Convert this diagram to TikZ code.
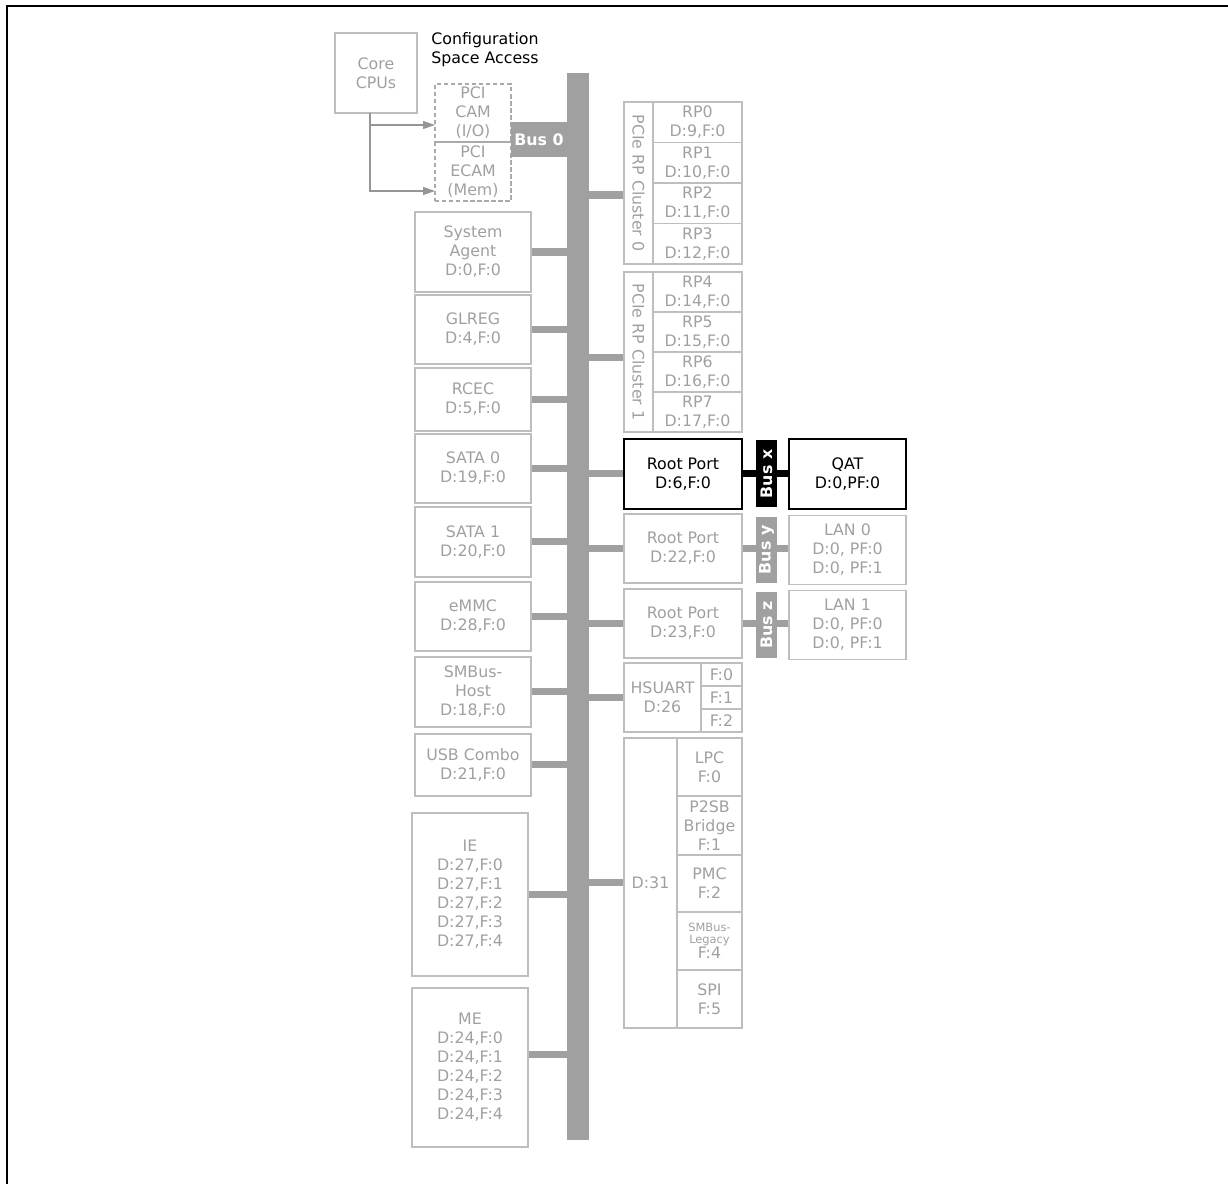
\documentclass[tikz,border=0pt]{standalone}
\usepackage{fontspec}
\setmainfont{DejaVu Sans}
\usetikzlibrary{arrows.meta, positioning, backgrounds}
\definecolor{boxgray}{RGB}{190,190,190}
\definecolor{dashgray}{RGB}{170,170,170}
\definecolor{txtgray}{RGB}{160,160,160}
\definecolor{busgray}{RGB}{160,160,160}
\definecolor{arrgray}{RGB}{150,150,150}

\begin{document}
\begin{tikzpicture}[
    x=0.02cm, y=-0.02cm,
    font=\fontsize{9}{10.8}\selectfont,
    box/.style={draw=boxgray, line width=0.8pt, text=txtgray, align=center, inner sep=0pt, outer sep=0pt, minimum width=2.32cm},
    actbox/.style={box, draw=black, text=black},
    dbox/.style={box, draw=dashgray, dash pattern=on 2.5pt off 1.5pt},
    busbar/.style={fill=busgray, inner sep=0pt, outer sep=0pt, text=white, font=\fontsize{9}{10.8}\selectfont\bfseries},
    link/.style={draw=busgray, line width=4pt},
    arrow/.style={-{Triangle[length=2.4mm, width=1.6mm]}, draw=arrgray, line width=0.7pt}
]
\useasboundingbox (0,0) rectangle (1228,1184);
\draw[line width=1.1pt] (7,1184) -- (7,6) -- (1228,6);

% access path
\node[box, minimum width=1.64cm, minimum height=1.6cm] (cpu) at (376,73) {Core\\CPUs};
\node[anchor=west, align=left, inner sep=0pt] (cfg) at (431,50) {Configuration\\Space Access};
\node[dbox, minimum width=1.52cm, minimum height=1.16cm] (cam) at (473,113) {PCI\\CAM\\(I/O)};
\node[dbox, minimum width=1.52cm, minimum height=1.18cm, below=0cm of cam] (ecam) {PCI\\ECAM\\(Mem)};
\node[busbar, minimum width=0.44cm, minimum height=21.34cm] (bus) at (578,606.5) {};
\node[busbar, minimum width=1.12cm, minimum height=0.7cm] (bus0) at (539,139.5) {Bus 0};
\draw[arrow] ([xshift=-0.12cm]cpu.south) |- ([yshift=-0.24cm]cam.west);
\draw[arrow] ([xshift=-0.12cm]cpu.south) |- ([yshift=-0.39cm]ecam.west);

% left devices
\node[box, minimum height=1.6cm] (sa) at (473,252) {System\\Agent\\D:0,F:0};
\node[box, minimum height=1.38cm, below=0.06cm of sa] (glreg) {GLREG\\D:4,F:0};
\node[box, minimum height=1.26cm, below=0.08cm of glreg] (rcec) {RCEC\\D:5,F:0};
\node[box, minimum height=1.38cm, below=0.06cm of rcec] (sata0) {SATA 0\\D:19,F:0};
\node[box, minimum height=1.4cm, below=0.08cm of sata0] (sata1) {SATA 1\\D:20,F:0};
\node[box, minimum height=1.38cm, below=0.1cm of sata1] (emmc) {eMMC\\D:28,F:0};
\node[box, minimum height=1.4cm, below=0.12cm of emmc] (smbus) {SMBus-\\Host\\D:18,F:0};
\node[box, minimum height=1.24cm, below=0.14cm of smbus] (usb) {USB Combo\\D:21,F:0};
\node[box, minimum height=3.26cm, below=0.34cm of usb, xshift=-0.06cm] (ie) {IE\\D:27,F:0\\D:27,F:1\\D:27,F:2\\D:27,F:3\\D:27,F:4};
\node[box, minimum height=3.18cm, below=0.24cm of ie] (me) {ME\\D:24,F:0\\D:24,F:1\\D:24,F:2\\D:24,F:3\\D:24,F:4};

% root port clusters
\node[box, minimum width=0.58cm, minimum height=3.24cm] (c0lab) at (638.5,183) {\rotatebox{-90}{PCIe RP Cluster 0}};
\node[box, minimum width=1.78cm, minimum height=0.81cm, anchor=north west] (rp0) at (c0lab.north east) {RP0\\D:9,F:0};
\node[box, minimum width=1.78cm, minimum height=0.81cm, below=0cm of rp0] (rp1) {RP1\\D:10,F:0};
\node[box, minimum width=1.78cm, minimum height=0.81cm, below=0cm of rp1] (rp2) {RP2\\D:11,F:0};
\node[box, minimum width=1.78cm, minimum height=0.81cm, below=0cm of rp2] (rp3) {RP3\\D:12,F:0};
\node[box, minimum width=0.58cm, minimum height=3.2cm, below=0.16cm of c0lab] (c1lab) {\rotatebox{-90}{PCIe RP Cluster 1}};
\node[box, minimum width=1.78cm, minimum height=0.8cm, anchor=north west] (rp4) at (c1lab.north east) {RP4\\D:14,F:0};
\node[box, minimum width=1.78cm, minimum height=0.8cm, below=0cm of rp4] (rp5) {RP5\\D:15,F:0};
\node[box, minimum width=1.78cm, minimum height=0.8cm, below=0cm of rp5] (rp6) {RP6\\D:16,F:0};
\node[box, minimum width=1.78cm, minimum height=0.8cm, below=0cm of rp6] (rp7) {RP7\\D:17,F:0};

% root ports and their buses
\node[actbox, minimum width=2.36cm, minimum height=1.4cm, below=0.14cm of c1lab.south west, anchor=north west] (rpx) {Root Port\\D:6,F:0};
\node[box, minimum width=2.36cm, minimum height=1.38cm, below=0.1cm of rpx] (rpy) {Root Port\\D:22,F:0};
\node[box, minimum width=2.36cm, minimum height=1.38cm, below=0.12cm of rpy] (rpz) {Root Port\\D:23,F:0};
\node[busbar, fill=black, minimum width=0.42cm, minimum height=1.34cm, right=0.28cm of rpx] (busx) {\rotatebox{90}{Bus x}};
\node[actbox, minimum width=2.34cm, minimum height=1.4cm, right=0.24cm of busx] (qat) {QAT\\D:0,PF:0};
\node[busbar, minimum width=0.42cm, minimum height=1.32cm, right=0.28cm of rpy, yshift=-0.03cm] (busy) {\rotatebox{90}{Bus y}};
\node[box, minimum width=2.34cm, minimum height=1.38cm, right=0.24cm of busy] (lan0) {LAN 0\\D:0, PF:0\\D:0, PF:1};
\node[busbar, minimum width=0.42cm, minimum height=1.32cm, right=0.28cm of rpz, yshift=-0.03cm] (busz) {\rotatebox{90}{Bus z}};
\node[box, minimum width=2.34cm, minimum height=1.38cm, right=0.24cm of busz] (lan1) {LAN 1\\D:0, PF:0\\D:0, PF:1};

% multi-function devices
\node[box, minimum width=1.54cm, minimum height=1.38cm, below=0.1cm of rpz.south west, anchor=north west] (hsl) {HSUART\\D:26};
\node[box, minimum width=0.82cm, minimum height=0.46cm, anchor=north west] (hs0) at (hsl.north east) {F:0};
\node[box, minimum width=0.82cm, minimum height=0.46cm, below=0cm of hs0] (hs1) {F:1};
\node[box, minimum width=0.82cm, minimum height=0.46cm, below=0cm of hs1] (hs2) {F:2};
\node[box, minimum width=1.06cm, minimum height=5.8cm, below=0.12cm of hsl.south west, anchor=north west] (d31) {D:31};
\node[box, minimum width=1.3cm, minimum height=1.16cm, anchor=north west] (lpc) at (d31.north east) {LPC\\F:0};
\node[box, minimum width=1.3cm, minimum height=1.18cm, below=0cm of lpc] (p2sb) {P2SB\\Bridge\\F:1};
\node[box, minimum width=1.3cm, minimum height=1.14cm, below=0cm of p2sb] (pmc) {PMC\\F:2};
\node[box, minimum width=1.3cm, minimum height=1.16cm, below=0cm of pmc] (smleg) {\fontsize{6.5}{7.8}\selectfont SMBus-\\[-4pt]\fontsize{6.5}{7.8}\selectfont Legacy\\[-2pt]F:4};
\node[box, minimum width=1.3cm, minimum height=1.16cm, below=0cm of smleg] (spi) {SPI\\F:5};

\begin{scope}[on background layer]
\foreach \dev in {sa, glreg, rcec, sata0, sata1, emmc, smbus, usb, ie}
    \draw[link] (\dev.east) -- (\dev -| bus.west);
\draw[link] ([yshift=0.25cm]me.east) -- ([yshift=0.25cm]me.east -| bus.west);
\draw[link] ([yshift=-0.24cm]c0lab.west -| bus.east) -- ([yshift=-0.24cm]c0lab.west);
\draw[link] ([yshift=-0.12cm]c1lab.west -| bus.east) -- ([yshift=-0.12cm]c1lab.west);
\foreach \dev in {rpx, rpy, rpz, hsl, d31}
    \draw[link] (bus.east |- \dev.west) -- (\dev.west);
\draw[link, draw=black] (rpx.east) -- (rpx.east -| qat.west);
\draw[link] (rpy.east) -- (rpy.east -| lan0.west);
\draw[link] (rpz.east) -- (rpz.east -| lan1.west);
\end{scope}
\end{tikzpicture}
\end{document}
